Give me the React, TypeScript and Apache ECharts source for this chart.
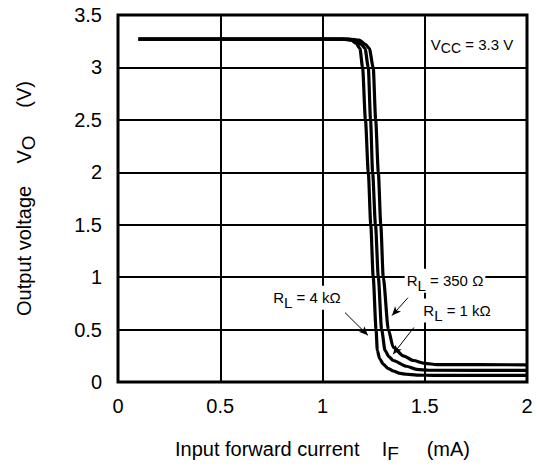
import React, { useEffect, useRef } from 'react';
import * as echarts from 'echarts';

// Input forward current IF (mA) vs output voltage VO (V), VCC = 3.3 V
const curve4k: [number, number][] = [
  [0.1, 3.27], [1.1, 3.27], [1.14, 3.26], [1.165, 3.23], [1.183, 3.18], [1.196, 3.0],
  [1.21, 2.5], [1.224, 2.0], [1.236, 1.5], [1.248, 1.0], [1.262, 0.5], [1.268, 0.3],
  [1.28, 0.22], [1.297, 0.17], [1.32, 0.13], [1.346, 0.105], [1.38, 0.082], [1.41, 0.074],
  [1.46, 0.066], [1.55, 0.063], [2, 0.063],
];
const curve1k: [number, number][] = [
  [0.1, 3.27], [1.12, 3.27], [1.16, 3.26], [1.19, 3.22], [1.208, 3.18], [1.224, 3.0],
  [1.235, 2.5], [1.245, 2.0], [1.259, 1.5], [1.273, 1.0], [1.289, 0.5], [1.306, 0.3],
  [1.325, 0.24], [1.346, 0.205], [1.41, 0.15], [1.46, 0.12], [1.52, 0.112], [2, 0.11],
];
const curve350: [number, number][] = [
  [0.1, 3.27], [1.13, 3.27], [1.18, 3.26], [1.21, 3.22], [1.229, 3.18], [1.248, 3.0],
  [1.26, 2.5], [1.273, 2.0], [1.285, 1.5], [1.297, 1.0], [1.322, 0.5], [1.346, 0.33],
  [1.395, 0.25], [1.444, 0.205], [1.5, 0.178], [1.56, 0.166], [2, 0.164],
];

const seriesNames = ['RL = 4 kΩ', 'RL = 1 kΩ', 'RL = 350 Ω'];
const labelValues = [' = 4 kΩ', ' = 1 kΩ', ' = 350 Ω'];
const labelAnchors: [number, number][] = [[0.924, 0.804], [1.658, 0.681], [1.599, 0.965]];
const arrowStarts: [number, number][] = [[1.11, 0.662], [1.447, 0.52], [1.418, 0.804]];
const arrowEnds: [number, number][] = [[1.222, 0.445], [1.345, 0.265], [1.34, 0.634]];
const vccAnchor: [number, number] = [1.731, 3.217];
const vccText = ' = 3.3 V';

const FONT = '"Liberation Sans", Arial, sans-serif';

export default function App() {
  const ref = useRef<HTMLDivElement>(null);
  useEffect(() => {
    if (!ref.current) return;
    const chart = echarts.init(ref.current, undefined, { renderer: 'svg' });
    const annRich = {
      n: { fontSize: 15, fontFamily: FONT, color: '#000' },
      s: { fontSize: 15, fontFamily: FONT, color: '#000', padding: [9, 0, 0, 0] },
    };
    const curves = [curve4k, curve1k, curve350];
    const series: any[] = curves.map((c, i) => ({
      name: seriesNames[i],
      type: 'line',
      data: c,
      showSymbol: false,
      smooth: 0.25,
      smoothMonotone: 'x',
      lineStyle: { color: '#000', width: 3.2 },
      z: 3,
    }));
    series.push({
      name: 'annotations',
      type: 'line',
      data: [],
      z: 5,
      markLine: {
        silent: true,
        symbol: ['none', 'arrow'],
        symbolSize: [6, 9],
        lineStyle: { color: '#000', width: 1, type: 'solid' },
        label: { show: false },
        data: arrowStarts.map((s, i) => [{ coord: s }, { coord: arrowEnds[i] }]),
      },
      markPoint: {
        silent: true,
        symbol: 'circle',
        symbolSize: 1,
        itemStyle: { color: 'rgba(0,0,0,0)' },
        data: [
          ...labelAnchors.map((a, i) => ({
            coord: a,
            label: {
              show: true,
              position: 'inside',
              backgroundColor: '#fff',
              padding: [0, 2, 0, 2],
              formatter: `{n|R}{s|L}{n|${labelValues[i]}}`,
              rich: annRich,
            },
          })),
          {
            coord: vccAnchor,
            label: {
              show: true,
              position: 'inside',
              formatter: `{n|V}{c|CC}{n|${vccText}}`,
              rich: {
                n: { fontSize: 15, fontFamily: FONT, color: '#000' },
                c: { fontSize: 14, fontFamily: FONT, color: '#000', padding: [6, 0, 0, 0] },
              },
            },
          },
        ],
      },
    });
    const nameRich = {
      n: { fontSize: 20, fontFamily: FONT, color: '#000' },
      s: { fontSize: 19, fontFamily: FONT, color: '#000', padding: [10, 0, 0, 0] },
    };
    chart.setOption({
      animation: false,
      backgroundColor: '#fff',
      grid: {
        left: 118, right: 10, top: 15, bottom: 83,
        show: true, borderColor: '#000', borderWidth: 3, backgroundColor: 'transparent',
      },
      xAxis: {
        type: 'value', min: 0, max: 2, interval: 0.5,
        name: '{n|Input forward current    I}{s|F}{n|     (mA)}',
        nameLocation: 'middle', nameGap: 52,
        nameTextStyle: { rich: nameRich },
        axisLine: { show: false },
        axisTick: { show: false },
        splitLine: { show: true, lineStyle: { color: '#000', width: 2 } },
        axisLabel: { fontSize: 20, fontFamily: FONT, color: '#000', margin: 14 },
      },
      yAxis: {
        type: 'value', min: 0, max: 3.5, interval: 0.5,
        name: '{n|Output voltage    V}{s|O}{n|     (V)}',
        nameLocation: 'middle', nameGap: 80,
        nameTextStyle: { rich: nameRich },
        axisLine: { show: false },
        axisTick: { show: false },
        splitLine: { show: true, lineStyle: { color: '#000', width: 2 } },
        axisLabel: { fontSize: 20, fontFamily: FONT, color: '#000', margin: 16 },
      },
      series,
    });
    return () => chart.dispose();
  }, []);
  return (
    <div
      ref={ref}
      style={{ position: 'fixed', left: 0, top: 0, width: 537, height: 468, background: '#fff' }}
    />
  );
}
